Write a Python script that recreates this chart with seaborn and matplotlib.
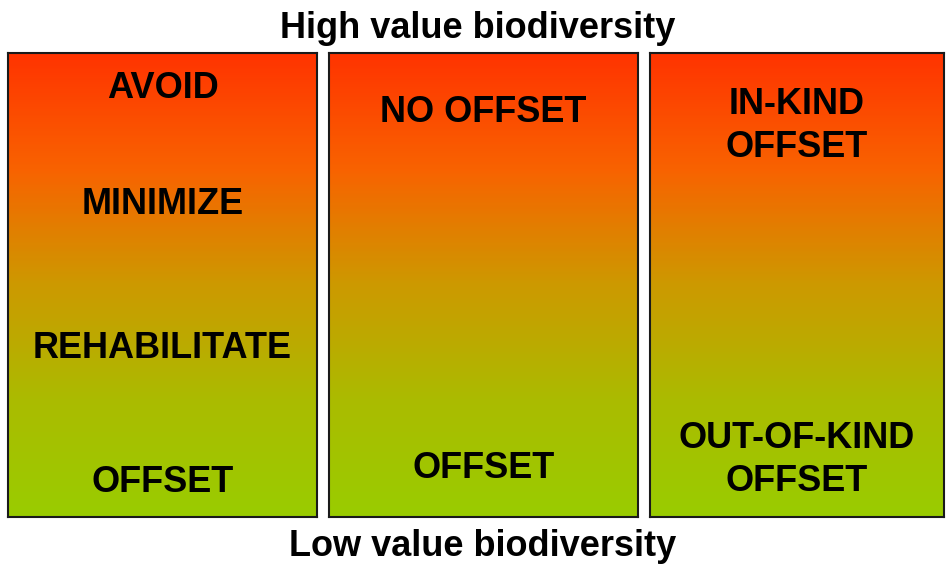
import numpy as np
import seaborn as sns
import matplotlib.pyplot as plt
from matplotlib.colors import LinearSegmentedColormap

# panel contents (one list per panel), from high value (top) to low value (bottom)
panel_labels = [
    ["AVOID", "MINIMIZE", "REHABILITATE", "OFFSET"],
    ["NO OFFSET", "OFFSET"],
    ["IN-KIND\nOFFSET", "OUT-OF-KIND\nOFFSET"],
]
# label centre heights, pixels from the top of the figure
panel_label_y = [
    [89, 205, 348, 482],
    [112, 468],
    [126, 460],
]
top_title = "High value biodiversity"
bottom_title = "Low value biodiversity"

# panel extents in pixels (left, right)
panel_x = [(8, 317), (329, 638), (650, 944)]
panel_top, panel_bottom = 53, 517

W, H = 946, 566

sns.set_theme(style="white")
plt.rcParams['font.family'] = ['Liberation Sans', 'DejaVu Sans']

# red (top) to green (bottom), green channel rises quickly
grad_cmap = LinearSegmentedColormap.from_list(
    "bio", [(0.0, "#FF3300"), (0.25, "#F86200"), (0.5, "#CC9900"),
            (0.75, "#AABB00"), (1.0, "#99CC00")])
gradient = np.linspace(0, 1, 256).reshape(-1, 1)

fig = plt.figure(figsize=(W / 100, H / 100), dpi=100)

for (x0, x1), labels, ys in zip(panel_x, panel_labels, panel_label_y):
    ax = fig.add_axes([x0 / W, 1 - panel_bottom / H,
                       (x1 - x0) / W, (panel_bottom - panel_top) / H])
    sns.heatmap(gradient, cmap=grad_cmap, cbar=False, ax=ax,
                xticklabels=False, yticklabels=False)
    for s in ax.spines.values():
        s.set_visible(True)
        s.set_color("#1a1a1a")
        s.set_linewidth(1.5)
    for lab, yp in zip(labels, ys):
        ax.text(0.5, (panel_bottom - yp) / (panel_bottom - panel_top), lab,
                transform=ax.transAxes, ha="center", va="center",
                fontsize=26, fontweight="bold", color="black",
                linespacing=1.28)

fig.text(478 / W, 1 - 29 / H, top_title, ha="center", va="center",
         fontsize=26, fontweight="bold", color="black")
fig.text(483 / W, 1 - 547 / H, bottom_title, ha="center", va="center",
         fontsize=26, fontweight="bold", color="black")

fig.savefig("out.png", dpi=100)
